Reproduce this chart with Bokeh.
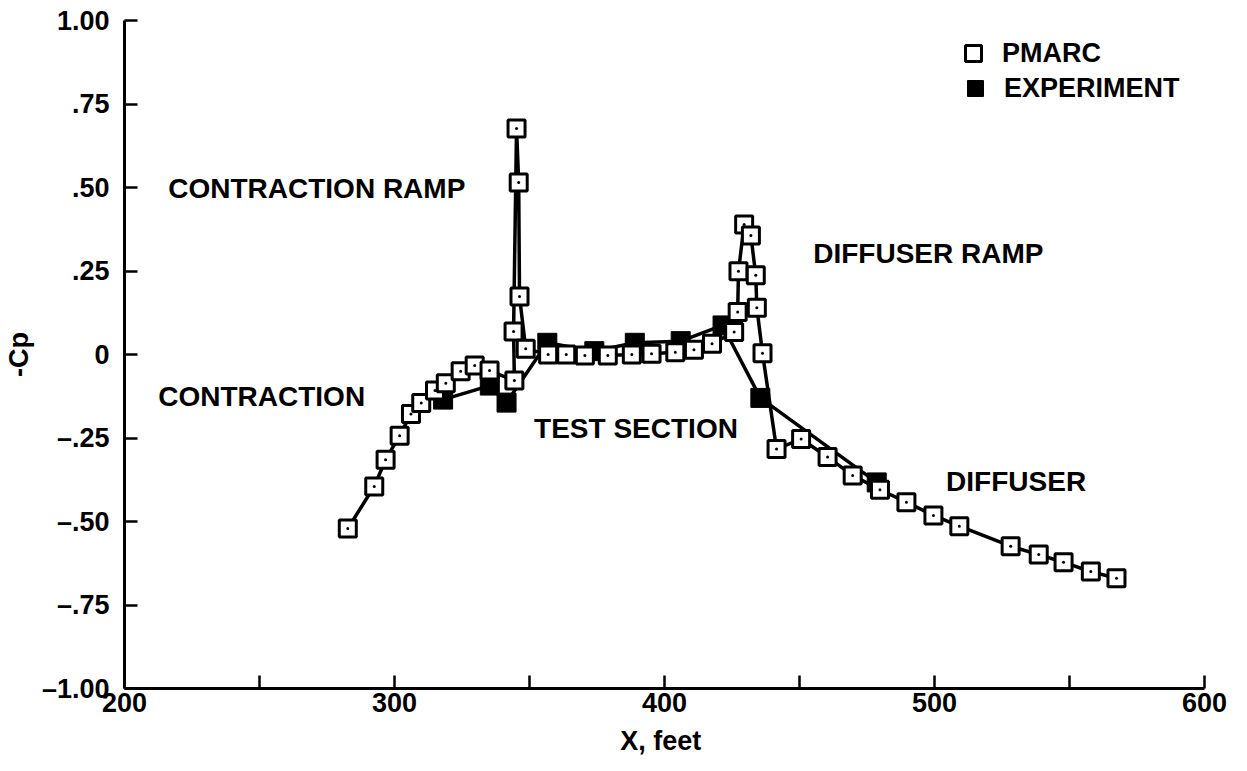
from bokeh.plotting import figure
from bokeh.models import Range1d, FixedTicker, Label, Legend, LegendItem, ColumnDataSource
from bokeh.embed import file_html
from bokeh.resources import INLINE

# ---------------- data ----------------
pmarc_x = [282.7, 292.5, 296.7, 301.9, 306.1, 309.9, 315.0, 319.0, 324.5, 329.7,
           335.2, 344.4, 344.1, 345.2, 346.0, 346.3, 348.6, 356.9, 363.6, 370.5,
           379.0, 387.9, 395.2, 404.0, 410.9, 417.6, 425.8, 427.1, 427.4, 429.5,
           432.0, 433.8, 434.2, 436.3, 441.5, 450.6, 460.4, 469.7, 479.8, 489.6,
           499.6, 509.2, 528.2, 538.6, 547.8, 557.9, 567.4]
pmarc_y = [-0.521, -0.395, -0.315, -0.243, -0.178, -0.145, -0.108, -0.086, -0.050, -0.033,
           -0.048, -0.078, 0.069, 0.677, 0.515, 0.174, 0.017, 0.000, 0.000, -0.003,
           -0.003, 0.000, 0.002, 0.007, 0.014, 0.032, 0.067, 0.127, 0.249, 0.389,
           0.356, 0.237, 0.140, 0.004, -0.283, -0.253, -0.307, -0.362, -0.405, -0.442,
           -0.482, -0.514, -0.574, -0.599, -0.622, -0.650, -0.670]

exp_x = [318.0, 335.3, 341.5, 356.6, 374.0, 389.0, 406.0, 421.5, 435.5, 478.6]
exp_y = [-0.135, -0.093, -0.144, 0.035, 0.010, 0.035, 0.040, 0.087, -0.130, -0.383]

x_major_ticks = [200, 300, 400, 500, 600]
x_minor_ticks = [250, 350, 450, 550]
y_tick_values = [-1.0, -0.75, -0.5, -0.25, 0.0, 0.25, 0.5, 0.75, 1.0]
y_tick_labels = ["\u20131.00", "\u2013.75", "\u2013.50", "\u2013.25", "0", ".25", ".50", ".75", "1.00"]

region_names = ["CONTRACTION RAMP", "CONTRACTION", "TEST SECTION", "DIFFUSER RAMP", "DIFFUSER"]
region_x = [216.2, 212.5, 351.7, 455.1, 504.3]
region_y = [0.497, -0.126, -0.222, 0.302, -0.380]

series_names = ["PMARC", "EXPERIMENT"]

FONT = "Liberation Sans"

p = figure(width=1231, height=763, output_backend="svg", toolbar_location=None,
           x_range=Range1d(200, 600), y_range=Range1d(-1, 1),
           min_border_left=116, min_border_right=27, min_border_top=20, min_border_bottom=75)
p.outline_line_color = None
p.xgrid.visible = False
p.ygrid.visible = False
p.background_fill_color = "white"
p.border_fill_color = "white"

# axes
for ax in (p.xaxis[0], p.yaxis[0]):
    ax.axis_line_width = 3
    ax.axis_line_color = "black"
    ax.major_tick_in = 13
    ax.major_tick_out = 0
    ax.minor_tick_in = 13
    ax.minor_tick_out = 0
    ax.major_tick_line_width = 2.5
    ax.minor_tick_line_width = 2.5
    ax.major_label_text_font = FONT
    ax.major_label_text_font_style = "bold"
    ax.major_label_text_font_size = "27px"
    ax.major_label_text_color = "black"
    ax.axis_label_text_font = FONT
    ax.axis_label_text_font_style = "bold"
    ax.axis_label_text_font_size = "27px"
    ax.axis_label_text_color = "black"

p.xaxis.ticker = FixedTicker(ticks=x_major_ticks, minor_ticks=x_minor_ticks)
p.xaxis.major_label_standoff = 4
p.xaxis.axis_label = "X,  feet"
p.xaxis.axis_label_standoff = 11

p.yaxis.ticker = FixedTicker(ticks=y_tick_values, minor_ticks=[])
p.yaxis.major_label_overrides = {v: s for v, s in zip(y_tick_values, y_tick_labels)}
p.yaxis.major_label_standoff = 15
p.yaxis.axis_label = "-Cp"
p.yaxis.axis_label_standoff = 5

# experiment
exp_src = ColumnDataSource(dict(x=exp_x, y=exp_y))
p.line("x", "y", source=exp_src, line_color="black", line_width=3.5)
r_exp = p.scatter("x", "y", source=exp_src, marker="square", size=19,
                  fill_color="black", line_color="black", line_width=1)

# PMARC
pm_src = ColumnDataSource(dict(x=pmarc_x, y=pmarc_y))
p.line("x", "y", source=pm_src, line_color="black", line_width=3.5)
r_pm = p.scatter("x", "y", source=pm_src, marker="square", size=17,
                 fill_color="white", line_color="black", line_width=3)
p.scatter("x", "y", source=pm_src, marker="circle", size=3,
          fill_color="black", line_color="black", line_width=0)

# region labels
for name, xx, yy in zip(region_names, region_x, region_y):
    p.add_layout(Label(x=xx, y=yy, text=name, text_font=FONT, text_font_style="bold",
                       text_font_size="28px", text_color="black", text_baseline="middle",
                       text_align="left"))

# legends (one per item for spacing control)
def make_legend(name, rend, loc):
    lg = Legend(items=[LegendItem(label=name, renderers=[rend])], location=loc,
                glyph_width=40, glyph_height=40, padding=0, margin=0, spacing=0,
                label_standoff=9, border_line_color=None, background_fill_alpha=0,
                label_text_font=FONT, label_text_font_style="bold",
                label_text_font_size="27px", label_text_color="black",
                label_text_baseline="middle")
    p.add_layout(lg, "center")

make_legend(series_names[0], r_pm, (829, 615))
make_legend(series_names[1], r_exp, (831, 580))

open("out.html", "w").write(file_html(p, INLINE))
